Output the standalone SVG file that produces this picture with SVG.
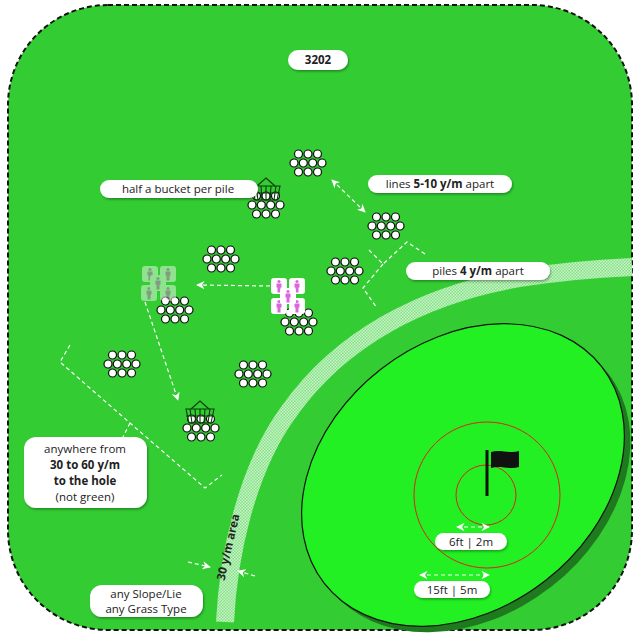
<svg xmlns="http://www.w3.org/2000/svg" width="640" height="640" viewBox="0 0 640 640">
<style>
.lbl{fill:#fff;filter:url(#sh)}
.t{font-family:"Open Sans","Noto Sans",sans-serif;font-size:11.5px;fill:#222;text-anchor:middle}
.b{font-weight:bold}
.ball{fill:#fff;stroke:#111;stroke-width:1.2}
.dash{fill:none;stroke:#fff;stroke-width:1.2;stroke-dasharray:4 3}
.tile{fill:#fff;}
</style>
<defs>
<filter id="sh" x="-20%" y="-40%" width="140%" height="180%"><feDropShadow dx="1" dy="1.5" stdDeviation="1.2" flood-opacity="0.35"/></filter>
<marker id="ah" viewBox="0 0 10 10" refX="9" refY="5" markerWidth="7" markerHeight="7" orient="auto-start-reverse"><path d="M0,0 L10,5 L0,10 L3,5 z" fill="#fff"/></marker>
<pattern id="hatch" width="3" height="3" patternUnits="userSpaceOnUse"><rect width="3" height="3" fill="#88e088"/><rect width="1.5" height="1.5" fill="#c8f5c8"/><rect x="1.5" y="1.5" width="1.5" height="1.5" fill="#c8f5c8"/></pattern>
<g id="pile"><circle class="ball" cx="-9.5" cy="-9" r="4"/><circle class="ball" cx="0" cy="-9" r="4"/><circle class="ball" cx="9.5" cy="-9" r="4"/><circle class="ball" cx="-14" cy="0" r="4"/><circle class="ball" cx="-4.7" cy="0" r="4"/><circle class="ball" cx="4.7" cy="0" r="4"/><circle class="ball" cx="14" cy="0" r="4"/><circle class="ball" cx="-9.5" cy="9" r="4"/><circle class="ball" cx="0" cy="9" r="4"/><circle class="ball" cx="9.5" cy="9" r="4"/></g>
<g id="basket" fill="none" stroke="#0a3a0a" stroke-width="1.1"><path d="M-14,-4 L14,-4 L11,10 L-11,10 Z"/><path d="M-14,3 L14,3 M-5,-4 L-4,10 M5,-4 L4,10 M-10,-4 L-8,10 M10,-4 L8,10 M0,-4 L0,10"/><path d="M-9,-4 L0,-12 L9,-4"/></g>
<g id="person"><rect x="-8" y="-8" width="16" height="16" rx="3" class="tile"/><circle cx="0" cy="-4.5" r="1.6" fill="#dd66dd"/><path d="M-2.5,-2.5 h5 v4 h-1 v5 h-3 v-5 h-1 z" fill="#dd66dd"/></g>
</defs>
<rect x="8" y="5" width="624" height="625" rx="100" fill="#33cc33" stroke="#111" stroke-width="2" stroke-dasharray="5 3"/>
<path d="M225,622 C228,560 245,470 290,410 C340,340 420,295 520,278 C570,270 610,268 632,267" fill="none" stroke="url(#hatch)" stroke-width="18"/>
<g id="green">
<ellipse cx="469" cy="481" rx="176" ry="134" transform="rotate(-38 469 481)" fill="#1f7a1f"/>
<ellipse cx="463" cy="475" rx="176" ry="134" transform="rotate(-38 463 475)" fill="#22f022" stroke="#111" stroke-width="1.2"/>
<circle cx="487" cy="495" r="73" fill="none" stroke="#dd2222" stroke-width="1"/>
<circle cx="486" cy="495" r="30" fill="none" stroke="#dd2222" stroke-width="1"/>
<rect x="485.5" y="450" width="3" height="46" fill="#111"/>
<path d="M491,452 C500,449 510,454 519,451 L519,467 C510,470 500,465 491,468 Z" fill="#111"/>
</g>
<g id="connectors">
<line class="dash" x1="332" y1="180" x2="365" y2="212" marker-start="url(#ah)" marker-end="url(#ah)"/>
<line class="dash" x1="270" y1="286" x2="197" y2="285" marker-end="url(#ah)"/>
<line class="dash" x1="145" y1="302" x2="178" y2="400" marker-end="url(#ah)"/>
<polyline class="dash" points="369,250 383,264 407,242 425,254"/>
<polyline class="dash" points="383,264 363,288 377,308"/>
<polyline class="dash" points="70,345 60,362 130,423 205,488 222,475"/>
<line class="dash" x1="130" y1="423" x2="123" y2="437"/>
<line class="dash" x1="457" y1="527" x2="489" y2="527" marker-start="url(#ah)" marker-end="url(#ah)"/>
<line class="dash" x1="420" y1="575" x2="489" y2="575" marker-start="url(#ah)" marker-end="url(#ah)"/>
<line class="dash" x1="188" y1="562" x2="210" y2="567" marker-end="url(#ah)"/>
<line class="dash" x1="255" y1="576" x2="238" y2="571" marker-end="url(#ah)"/>
</g>
<g id="piles">
<use href="#pile" x="308" y="163"/><use href="#pile" x="266" y="205"/><use href="#pile" x="386" y="226"/>
<use href="#pile" x="221" y="259"/><use href="#pile" x="345" y="271"/><use href="#pile" x="175" y="310"/>
<use href="#pile" x="299" y="322"/><use href="#pile" x="122" y="364"/><use href="#pile" x="253" y="374"/>
<use href="#pile" x="201" y="428"/>
</g>
<g id="baskets"><use href="#basket" x="266" y="190"/><use href="#basket" x="200" y="413"/></g>
<g id="people1" opacity="0.45"><use href="#person" x="150" y="274"/><use href="#person" x="168" y="274"/><use href="#person" x="149" y="293"/><use href="#person" x="168" y="293"/><use href="#person" x="158" y="283"/></g>
<g id="people2"><use href="#person" x="279" y="286"/><use href="#person" x="297" y="286"/><use href="#person" x="279" y="306"/><use href="#person" x="297" y="306"/><use href="#person" x="288" y="296"/></g>
<g id="n3202"><rect class="lbl" x="288" y="50" width="60" height="20" rx="10"/><text class="t b" x="318" y="64">3202</text></g>
<g id="nhalf"><rect class="lbl" x="100" y="180" width="158" height="18" rx="9"/><text class="t" x="178" y="193">half a bucket per pile</text></g>
<g id="nlines"><rect class="lbl" x="368" y="175" width="144" height="18" rx="9"/><text class="t" x="440" y="188">lines <tspan class="b">5-10 y/m</tspan> apart</text></g>
<g id="npiles"><rect class="lbl" x="406" y="262" width="144" height="18" rx="9"/><text class="t" x="478" y="275">piles <tspan class="b">4 y/m</tspan> apart</text></g>
<g id="nany"><rect class="lbl" x="24" y="437" width="123" height="71" rx="12"/><text class="t" x="85" y="453">anywhere from</text><text class="t b" x="85" y="469">30 to 60 y/m</text><text class="t b" x="85" y="485">to the hole</text><text class="t" x="85" y="501">(not green)</text></g>
<g id="nslope"><rect class="lbl" x="90" y="585" width="113" height="32" rx="12"/><text class="t" x="146" y="598">any Slope/Lie</text><text class="t" x="146" y="613">any Grass Type</text></g>
<g id="n6ft"><rect class="lbl" x="435" y="533" width="72" height="17" rx="8.5"/><text class="t" x="471" y="546">6ft | 2m</text></g>
<g id="n15ft"><rect class="lbl" x="414" y="581" width="76" height="17" rx="8.5"/><text class="t" x="452" y="594">15ft | 5m</text></g>
<text class="t b" x="0" y="0" transform="translate(232,548) rotate(-77)" font-size="11">30 y/m area</text>
</svg>
